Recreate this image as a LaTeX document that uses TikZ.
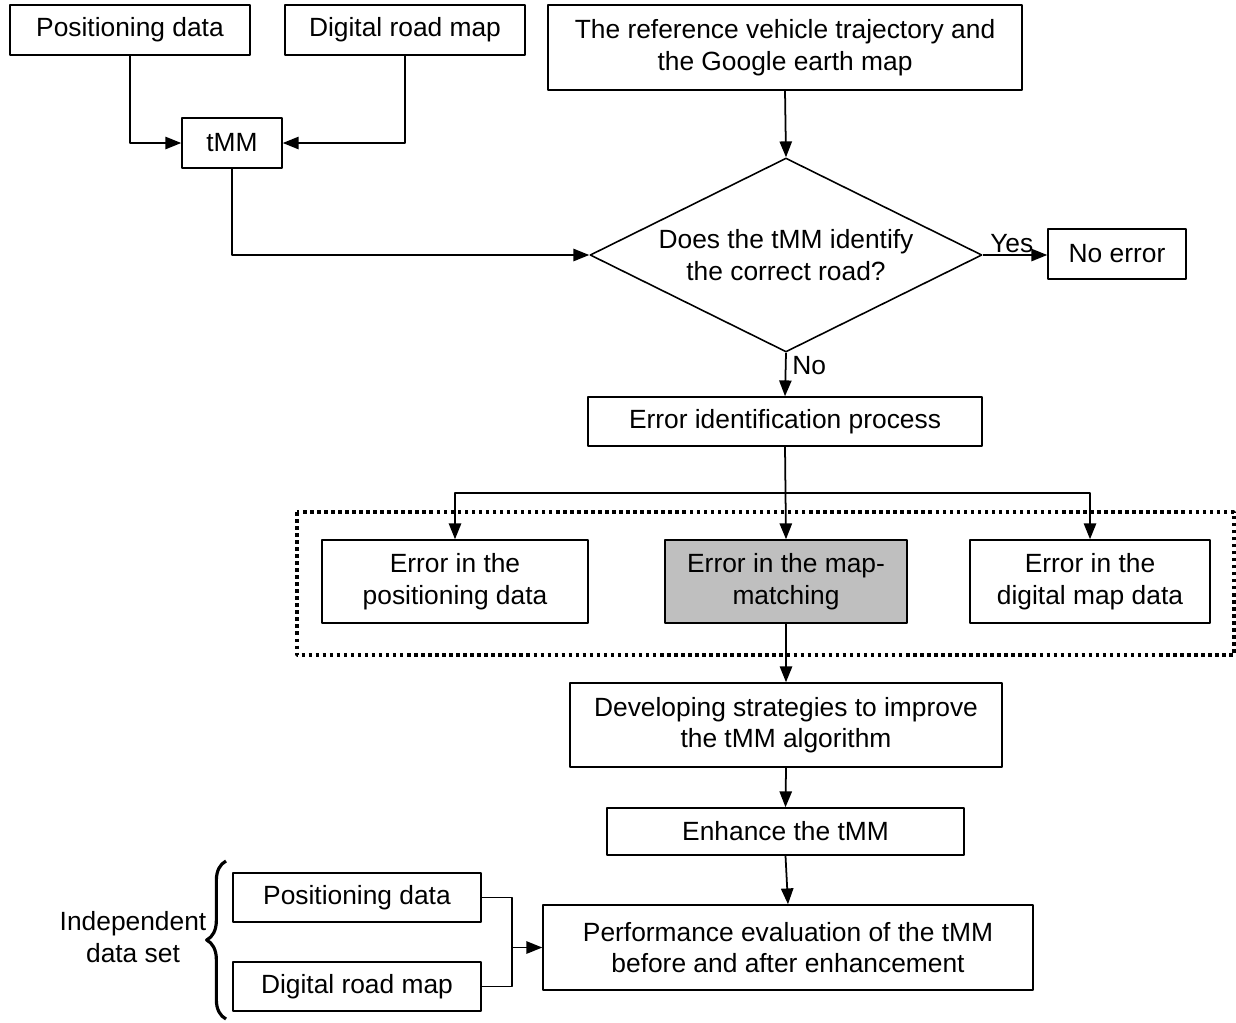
\documentclass[tikz,border=0pt]{standalone}
\usepackage{fontspec}
\setmainfont{Liberation Sans}
\usetikzlibrary{shapes.geometric,arrows.meta,decorations.pathreplacing}
\tikzset{
  box/.style={draw,line width=0.9pt,align=center,inner sep=0pt},
  decision/.style={draw,diamond,line width=0.9pt,align=center,inner sep=0pt,aspect=2},
  frame/.style={line width=2pt,dash pattern=on 2pt off 2pt}
}
\begin{document}
\begin{tikzpicture}[x=0.02cm,y=-0.02cm,>={Triangle[length=9pt,width=7pt]},line join=round,
  font=\fontsize{15}{18}\selectfont,line width=1pt]
  \useasboundingbox (0,0) rectangle (1236,1022);
  % inputs
  \node[box,minimum width=4.8cm,minimum height=1cm] (posA) at (130,30) {Positioning data};
  \node[box,minimum width=4.8cm,minimum height=1cm] (mapA) at (405,30) {Digital road map};
  \node[box,minimum width=9.48cm,minimum height=1.7cm] (ref) at (785,47.5) {The reference vehicle trajectory and\\the Google earth map};
  \node[box,minimum width=2cm,minimum height=1cm] (tmm) at (232,143) {tMM};
  \node[decision,minimum width=7.84cm,minimum height=3.88cm] (dec) at (786,255) {Does the tMM identify\\the correct road?};
  \node[box,minimum width=2.76cm,minimum height=1cm] (noerr) at (1117,254) {No error};
  \node[box,minimum width=7.88cm,minimum height=0.98cm] (errid) at (785,421.5) {Error identification process};
  % error sources
  \draw[frame] (297,512) rectangle (1234,655);
  \node[box,minimum width=5.32cm,minimum height=1.66cm] (e1) at (455,581.5) {Error in the\\positioning data};
  \node[box,fill=gray!50,minimum width=4.84cm,minimum height=1.66cm] (e2) at (786,581.5) {Error in the map-\\matching};
  \node[box,minimum width=4.8cm,minimum height=1.66cm] (e3) at (1090,581.5) {Error in the\\digital map data};
  \node[box,minimum width=8.64cm,minimum height=1.68cm] (dev) at (786,725) {Developing strategies to improve\\the tMM algorithm};
  \node[box,minimum width=7.14cm,minimum height=0.94cm] (enh) at (785.5,831.5) {Enhance the tMM};
  \node[box,minimum width=9.8cm,minimum height=1.7cm] (perf) at (788,947.5) {Performance evaluation of the tMM\\before and after enhancement};
  % independent data
  \node[box,minimum width=4.96cm,minimum height=0.98cm] (posB) at (357,897.5) {Positioning data};
  \node[box,minimum width=4.96cm,minimum height=0.98cm] (mapB) at (357,986.5) {Digital road map};
  \node[align=center] (indep) at (133,937) {Independent\\data set};
  \draw[decorate,decoration={brace,amplitude=11pt},line width=1.8pt] (226,1019) -- (226,861);
  \coordinate (split) at (786,493);
  \coordinate (join) at (512,947.5);
  % connectors
  \draw[->] (posA.south) |- (tmm.west);
  \draw[->] (mapA.south) |- (tmm.east);
  \draw[->] (tmm.south) |- (dec.west);
  \draw[->] (ref.south) -- (dec.north);
  \draw[->] (dec.east) -- node[above,pos=0.45,inner sep=1pt]{Yes} (dec.east -| noerr.west);
  \draw[->] (dec.south) -- node[right,pos=0.3]{No} (errid.north);
  \draw[->] (errid.south) -- (e2.north);
  \foreach \e in {e1,e3}
    \draw[->] (split) -| (\e.north);
  \draw[->] (e2.south) -- (dev.north);
  \draw[->] (dev.south) -- (enh.north);
  \draw[->] (enh.south) -- (perf.north);
  \draw (posB.east) -| (join);
  \draw (mapB.east) -| (join);
  \draw[->] (join) -- (perf.west);
\end{tikzpicture}
\end{document}
